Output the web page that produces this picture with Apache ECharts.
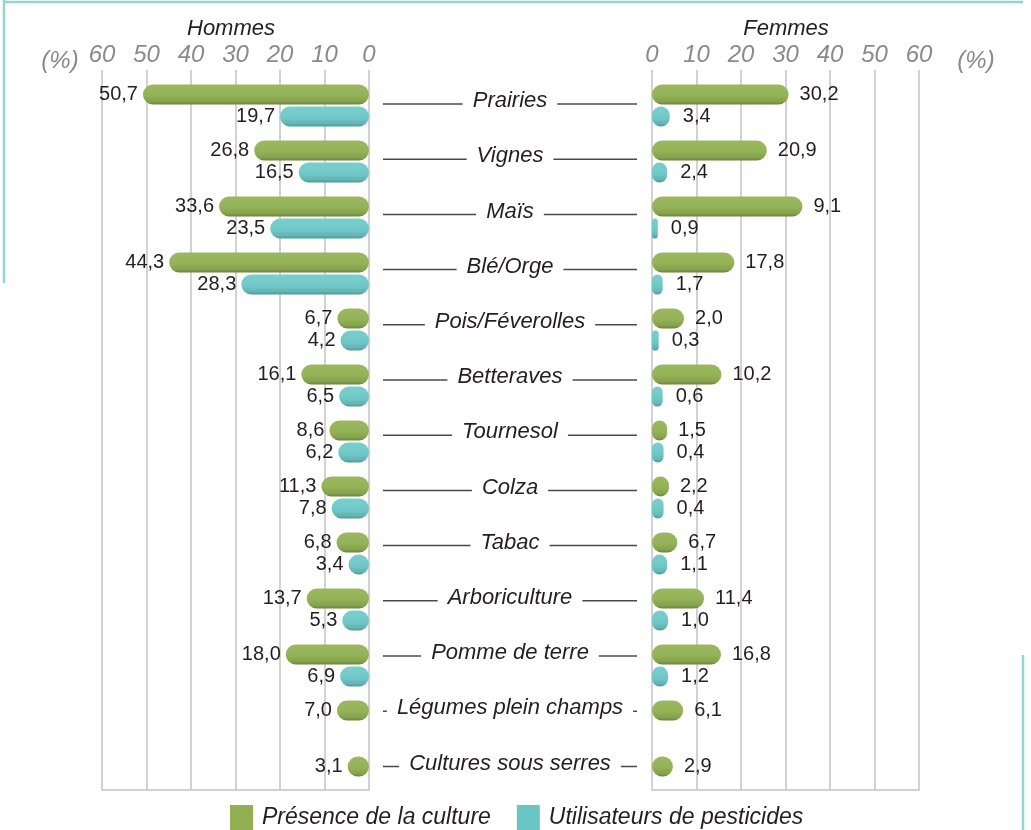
<!DOCTYPE html>
<html>
<head>
<meta charset="utf-8">
<script src="https://cdn.jsdelivr.net/npm/echarts@6/dist/echarts.min.js"></script>
<style>
html,body{margin:0;padding:0;background:#fff;}
#chart{width:1031px;height:830px;}
</style>
</head>
<body>
<div id="chart"></div>
<script>
// ---- data ----
const categories = ['Prairies','Vignes','Maïs','Blé/Orge','Pois/Féverolles','Betteraves','Tournesol','Colza','Tabac','Arboriculture','Pomme de terre','Légumes plein champs','Cultures sous serres'];
const tickValues = [0, 10, 20, 30, 40, 50, 60];
const unitLabel = '(%)';
// printed values
const hommesPresence   = [50.7, 26.8, 33.6, 44.3, 6.7, 16.1, 8.6, 11.3, 6.8, 13.7, 18.0, 7.0, 3.1];
const hommesPesticides = [19.7, 16.5, 23.5, 28.3, 4.2, 6.5, 6.2, 7.8, 3.4, 5.3, 6.9, null, null];
const femmesPresence   = [30.2, 20.9, 9.1, 17.8, 2.0, 10.2, 1.5, 2.2, 6.7, 11.4, 16.8, 6.1, 2.9];
const femmesPesticides = [3.4, 2.4, 0.9, 1.7, 0.3, 0.6, 0.4, 0.4, 1.1, 1.0, 1.2, null, null];
// bar lengths as drawn in the picture
const hommesPresenceBar   = [50.8, 25.8, 33.7, 44.9, 7.1, 15.2, 8.9, 10.7, 7.3, 14.0, 18.7, 7.2, 4.8];
const hommesPesticidesBar = [20.0, 15.8, 22.2, 28.7, 6.4, 6.7, 6.9, 8.4, 4.6, 6.0, 6.5, null, null];
const femmesPresenceBar   = [30.7, 25.8, 33.8, 18.5, 7.2, 15.6, 3.4, 3.8, 5.7, 11.7, 15.5, 7.0, 4.7];
const femmesPesticidesBar = [4.0, 3.4, 1.3, 2.4, 1.5, 2.4, 2.6, 2.6, 3.4, 3.6, 3.6, null, null];
const seriesNames = ['Présence de la culture', 'Utilisateurs de pesticides'];

// ---- styles ----
const FONT = '"Liberation Sans", Arial, sans-serif';
const greenGrad = new echarts.graphic.LinearGradient(0,0,0,1,[
  {offset:0,color:'#9bb960'},{offset:0.55,color:'#94b257'},{offset:0.85,color:'#86a24c'},{offset:1,color:'#6a863a'}]);
const cyanGrad = new echarts.graphic.LinearGradient(0,0,0,1,[
  {offset:0,color:'#7bcfce'},{offset:0.55,color:'#6fc9c8'},{offset:0.85,color:'#62b6b5'},{offset:1,color:'#4b9695'}]);
const fmt = v => (v == null ? '' : v.toFixed(1).replace('.', ','));

const gridLine = {show:true, lineStyle:{color:'#c3c3c8', width:1.5}};
const tickLabel = {show:true, margin:3, color:'#8a8a8a', fontSize:24, fontStyle:'italic', fontFamily:FONT,
  formatter: v => (tickValues.indexOf(v) >= 0 ? String(v) : '')};
const titleStyle = {fontSize:22, fontStyle:'italic', fontWeight:'normal', color:'#231f20', fontFamily:FONT};
const unitStyle = {fontSize:24, fontStyle:'italic', fontWeight:'normal', color:'#8a8a8a', fontFamily:FONT};

function barSeries(name, xi, yi, data, labels, color, pos, dist) {
  return {
    name, type:'bar', xAxisIndex:xi, yAxisIndex:yi, data,
    barWidth:20, barGap:'10%',
    itemStyle:{color, borderRadius:10},
    label:{show:true, position:pos, distance:dist, color:'#231f20', fontSize:20, fontFamily:FONT,
      formatter: p => fmt(labels[p.dataIndex])},
    emphasis:{disabled:true}, animation:false
  };
}

const chart = echarts.init(document.getElementById('chart'), null, {renderer:'canvas'});
chart.setOption({
  animation:false,
  backgroundColor:'#fff',
  title:[
    {text:'Hommes', left:226, top:13, textAlign:'center', textStyle:titleStyle},
    {text:'Femmes', left:781, top:13, textAlign:'center', textStyle:titleStyle},
    {text:unitLabel, left:55, top:44, textAlign:'center', textStyle:unitStyle},
    {text:unitLabel, left:971, top:44, textAlign:'center', textStyle:unitStyle}
  ],
  legend:{
    left:225, top:800, itemWidth:23, itemHeight:26, itemGap:26, icon:'rect',
    data:[{name:seriesNames[0], itemStyle:{color:'#90b052'}}, {name:seriesNames[1], itemStyle:{color:'#6ac6c5'}}],
    textStyle:{fontSize:23, fontStyle:'italic', color:'#231f20', fontFamily:FONT, padding:[0,0,0,4]},
    selectedMode:false
  },
  grid:[
    {left:102, top:77.5, width:267, height:728},
    {left:652, top:77.5, width:267, height:728},
    {left:102, top:70, width:267, height:720},
    {left:652, top:70, width:267, height:720},
    {left:383, top:76.4, width:254, height:717.6}
  ],
  xAxis:[
    {gridIndex:0, type:'value', min:0, max:60, inverse:true, show:false},
    {gridIndex:1, type:'value', min:0, max:60, show:false},
    {gridIndex:2, type:'value', min:0, max:60, interval:10, inverse:true, position:'top',
      axisLine:{show:false}, axisTick:{show:false}, axisLabel:tickLabel, splitLine:gridLine},
    {gridIndex:3, type:'value', min:0, max:60, interval:10, position:'top',
      axisLine:{show:false}, axisTick:{show:false}, axisLabel:tickLabel, splitLine:gridLine},
    {gridIndex:2, type:'value', min:0, max:60, position:'bottom', axisLine:{show:true, lineStyle:{color:'#c3c3c8', width:1.5}},
      axisTick:{show:false}, axisLabel:{show:false}, splitLine:{show:false}},
    {gridIndex:3, type:'value', min:0, max:60, position:'bottom', axisLine:{show:true, lineStyle:{color:'#c3c3c8', width:1.5}},
      axisTick:{show:false}, axisLabel:{show:false}, splitLine:{show:false}},
    {gridIndex:4, type:'value', min:0, max:1, show:false}
  ],
  yAxis:[
    {gridIndex:0, type:'category', data:categories, inverse:true, show:false},
    {gridIndex:1, type:'category', data:categories, inverse:true, show:false},
    {gridIndex:2, type:'value', show:false},
    {gridIndex:3, type:'value', show:false},
    {gridIndex:4, type:'category', data:categories, inverse:true, show:false}
  ],
  series:[
    barSeries(seriesNames[0], 0, 0, hommesPresenceBar, hommesPresence, greenGrad, 'left', 5),
    barSeries(seriesNames[1], 0, 0, hommesPesticidesBar, hommesPesticides, cyanGrad, 'left', 5),
    barSeries(seriesNames[0], 1, 1, femmesPresenceBar, femmesPresence, greenGrad, 'right', 11),
    barSeries(seriesNames[1], 1, 1, femmesPesticidesBar, femmesPesticides, cyanGrad, 'right', 13),
    {
      type:'custom', xAxisIndex:6, yAxisIndex:4, silent:true,
      data: categories.map(c => ({value:[0.5, c]})),
      encode:{x:0, y:1},
      renderItem:function(params, api){
        const idx = params.dataIndex;
        const a = api.coord([0, idx]);
        const b = api.coord([1, idx]);
        const m = api.coord([0.5, idx]);
        return {type:'group', children:[
          {type:'line', shape:{x1:a[0], y1:a[1], x2:b[0], y2:b[1]}, style:{stroke:'#4a4a4a', lineWidth:1.5}},
          {type:'text', x:m[0], y:m[1]-3, style:{text:categories[idx], fill:'#231f20',
            font:'italic 22px ' + FONT, align:'center', verticalAlign:'middle',
            backgroundColor:'#fff', padding:[2,10]}}
        ]};
      }
    }
  ],
  graphic:[
    {type:'line', silent:true, shape:{x1:4, y1:2, x2:1023, y2:2}, style:{stroke:'#93d5d3', lineWidth:2.5}},
    {type:'line', silent:true, shape:{x1:4, y1:0, x2:4, y2:283}, style:{stroke:'#93d5d3', lineWidth:2.5}},
    {type:'line', silent:true, shape:{x1:1023, y1:655, x2:1023, y2:830}, style:{stroke:'#93d5d3', lineWidth:2.5}}
  ]
});
</script>
</body>
</html>
